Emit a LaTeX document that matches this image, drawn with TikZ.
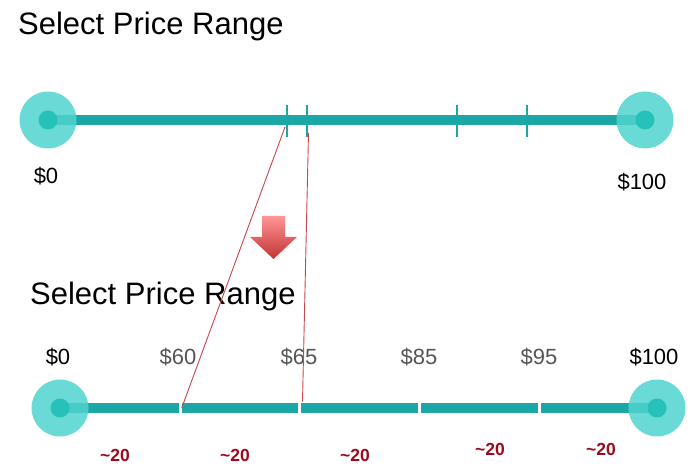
\documentclass[tikz,border=0pt]{standalone}
\usepackage{fontspec}
\setmainfont{Liberation Sans}
\usetikzlibrary{shadings}
\definecolor{bar}{HTML}{1BA7A6}
\definecolor{knob}{HTML}{4FD3CF}
\definecolor{dot}{HTML}{26C1B9}
\definecolor{guide}{HTML}{C8464A}
\definecolor{approx}{HTML}{9B0A1F}
\definecolor{midlab}{HTML}{555555}
\tikzset{
  title/.style={anchor=base west,inner sep=0,font=\fontsize{31}{31}\selectfont},
  lab/.style={anchor=base,inner sep=0,font=\fontsize{22}{22}\selectfont},
  midl/.style={lab,text=midlab},
  apx/.style={anchor=base,inner sep=0,text=approx,font=\fontsize{17.5}{17.5}\selectfont\bfseries},
  track/.style={draw=bar,line width=10pt},
  tick/.style={draw=bar,line width=2pt},
  knobc/.style={circle,fill=knob,opacity=0.85,minimum size=57pt,inner sep=0},
  dotc/.style={circle,fill=dot,minimum size=19pt,inner sep=0},
  guideline/.style={draw=guide,line width=0.9pt},
  gap/.style={draw=white,line width=3pt}
}
\begin{document}
\begin{tikzpicture}[x=1pt,y=-1pt]
\useasboundingbox (0,0) rectangle (694,470);
% top
\node[title] (t1) at (18,35) {Select Price Range};
\draw[track] (48,120) -- (645,120);
\coordinate (k1) at (286.5,105);
\coordinate (k1b) at (286.5,137);
\coordinate (k2) at (306.5,105);
\coordinate (k2b) at (306.5,137);
\draw[tick] (k1) -- (k1b);
\draw[tick] (k2) -- (k2b);
\draw[tick] (456.5,105) -- (456.5,137);
\draw[tick] (526.5,105) -- (526.5,137);
\node[knobc] (tl) at (48,120) {};
\node[dotc] (tld) at (48,120) {};
\node[knobc] (tr) at (645,120) {};
\node[dotc] (trd) at (645,120) {};
\node[lab] (l0) at (46,184) {\$0};
\node[lab] (l100) at (642,190) {\$100};
% arrow
\shade[top color=red!35!white!90!red, bottom color=red!70!black!80!white, shading angle=0]
  (262,216) -- (285,216) -- (285,237) -- (297,237) -- (273.5,259) -- (250,237) -- (262,237) -- cycle;
% bottom
\node[title] (t2) at (30,304.5) {Select Price Range};
\draw[track] (60,408) -- (657,408);
\coordinate (g1) at (180,408);
\coordinate (g2) at (299.5,408);
\draw[gap] (180,402) -- (180,414);
\draw[gap] (299.5,402) -- (299.5,414);
\draw[gap] (419.5,402) -- (419.5,414);
\draw[gap] (539.5,402) -- (539.5,414);
\node[knobc] (bl) at (60,408) {};
\node[dotc] (bld) at (60,408) {};
\node[knobc] (br) at (657,408) {};
\node[dotc] (brd) at (657,408) {};
\node[lab] (b0) at (58,365) {\$0};
\node[midl] (b60) at (178,365) {\$60};
\node[midl] (b65) at (299,365) {\$65};
\node[midl] (b85) at (419,365) {\$85};
\node[midl] (b95) at (539,365) {\$95};
\node[lab] (b100) at (654,365) {\$100};
\node[apx] (a1) at (115,461) {\char`~20};
\node[apx] (a2) at (235,461) {\char`~20};
\node[apx] (a3) at (355,461) {\char`~20};
\node[apx] (a4) at (490,455) {\char`~20};
\node[apx] (a5) at (601,455) {\char`~20};
% guides
\coordinate (s1) at (285,127);
\coordinate (s2) at (308.5,133);
\coordinate (e1) at (181.7,408);
\coordinate (e2) at (302.5,401.5);
\draw[guideline] (s1) -- (e1);
\draw[guideline] (s2) -- (e2);
\end{tikzpicture}
\end{document}
